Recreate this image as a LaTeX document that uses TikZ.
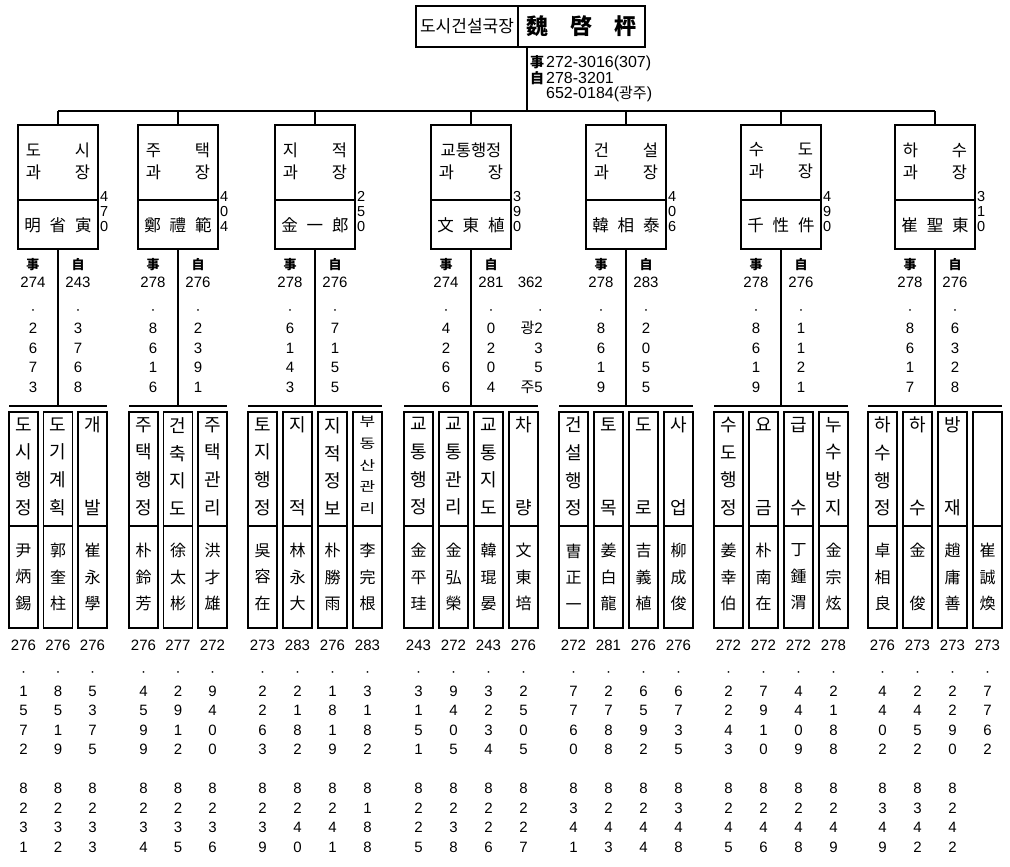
\documentclass[tikz,border=0pt]{standalone}
\usepackage{fontspec}
\usepackage{graphicx}
\newfontfamily\kr{Noto Sans CJK KR}
\newfontfamily\num{Liberation Sans}
\usetikzlibrary{positioning, calc}

\begin{document}
\begin{tikzpicture}[x=1pt, y=-1pt,
    boxed/.style={draw, line width=1.5pt, inner sep=0pt, outer sep=0pt},
    wire/.style={line width=1.4pt},
    head/.style={font={\kr\fontsize{16.5}{22}\selectfont}, align=center, inner sep=0pt},
    vlab/.style={font={\kr\fontsize{18}{27.7}\selectfont}, align=center, inner sep=0pt},
    vlabfive/.style={font={\kr\fontsize{17}{21.75}\selectfont}, align=center, inner sep=0pt, yshift=1pt},
    vname/.style={font={\kr\fontsize{16}{26.5}\selectfont}, align=center, inner sep=0pt},
    tel/.style={font={\num\fontsize{15}{19.5}\selectfont}, align=center, inner sep=0pt, anchor=north},
    telhead/.style={font={\kr\bfseries\fontsize{13}{13}\selectfont}, inner sep=0pt},
    ext/.style={font={\num\fontsize{14.5}{15}\selectfont}, align=left, inner sep=0pt, anchor=north west}]
\useasboundingbox (0,0) rectangle (1010,867);

% 국장
\node[boxed, minimum width=102, minimum height=41, font={\kr\fontsize{17}{17}\selectfont}] (chiefl) at (467,26.5) {도시건설국장};
\node[boxed, minimum width=127, minimum height=41, right=0pt of chiefl, font={\kr\bfseries\fontsize{22}{22}\selectfont}] (chiefr) {魏\hspace{22pt}啓\hspace{22pt}枰};
\node[ext, font={\num\fontsize{16}{15}\selectfont}] (chieftel) at (530,55) {{\kr\bfseries\fontsize{14}{14}\selectfont 事}\hspace{2pt}272-3016(307)\\{\kr\bfseries\fontsize{14}{14}\selectfont 自}\hspace{2pt}278-3201\\\phantom{\kr\bfseries\fontsize{14}{14}\selectfont 事}\hspace{2pt}652-0184({\kr\fontsize{15}{15}\selectfont 광주})};

\coordinate (bus0) at (527,111);
\draw[wire] (bus0 |- chiefr.south) -- (bus0);

% 과장
\foreach \cx/\hd/\nm/\ext/\pa/\pb/\lft/\rgt [count=\i] in {
    58/{도\hspace{34pt}시\\과\hspace{34pt}장}/{明\hspace{9pt}省\hspace{9pt}寅}/{4\\7\\0}/{274\\[7pt]·\\2\\6\\7\\3}/{243\\[7pt]·\\3\\7\\6\\8}/9/107,
    178/{주\hspace{34pt}택\\과\hspace{34pt}장}/{鄭\hspace{9pt}禮\hspace{9pt}範}/{4\\0\\4}/{278\\[7pt]·\\8\\6\\1\\6}/{276\\[7pt]·\\2\\3\\9\\1}/129/227,
    315/{지\hspace{34pt}적\\과\hspace{34pt}장}/{金\hspace{9pt}一\hspace{9pt}郎}/{2\\5\\0}/{278\\[7pt]·\\6\\1\\4\\3}/{276\\[7pt]·\\7\\1\\5\\5}/248/382,
    471/{교통행정\\과\hspace{34pt}장}/{文\hspace{9pt}東\hspace{9pt}植}/{3\\9\\0}/{274\\[7pt]·\\4\\2\\6\\6}/{281\\[7pt]·\\0\\2\\0\\4}/404/538,
    626/{건\hspace{34pt}설\\과\hspace{34pt}장}/{韓\hspace{9pt}相\hspace{9pt}泰}/{4\\0\\6}/{278\\[7pt]·\\8\\6\\1\\9}/{283\\[7pt]·\\2\\0\\5\\5}/559/693,
    781/{수\hspace{34pt}도\\과\hspace{34pt}장}/{千\hspace{9pt}性\hspace{9pt}件}/{4\\9\\0}/{278\\[7pt]·\\8\\6\\1\\9}/{276\\[7pt]·\\1\\1\\2\\1}/714/848,
    935/{하\hspace{34pt}수\\과\hspace{34pt}장}/{崔\hspace{9pt}聖\hspace{9pt}東}/{3\\1\\0}/{278\\[7pt]·\\8\\6\\1\\7}/{276\\[7pt]·\\6\\3\\2\\8}/868/1002}{
    \coordinate (bus\i) at (\cx,111);
    \node[boxed, minimum width=80, minimum height=75] (d\i t) at (\cx,162.5) {};
    \node[boxed, minimum width=80, minimum height=49, below=0pt of d\i t] (d\i n) {};
    \node[head] (d\i h) at (\cx,161) {\hd};
    \node[font={\kr\fontsize{16.5}{16.5}\selectfont}, inner sep=0pt] (d\i m) at (\cx,225) {\nm};
    \node[ext] (d\i x) at (\cx+42,191.5) {\ext};
    \node[telhead] (d\i ha) at (\cx-25,265) {事};
    \node[telhead] (d\i hb) at (\cx+20,265) {自};
    \node[tel] (d\i pa) at (\cx-25,277) {\pa};
    \node[tel] (d\i pb) at (\cx+20,277) {\pb};
    \coordinate (sub\i) at (\cx,406);
    \coordinate (h\i w) at (\lft,406);
    \coordinate (h\i e) at (\rgt,406);
    \draw[wire] (bus\i) -- (d\i t.north);
    \draw[wire] (d\i n.south) -- (sub\i);
    \draw[wire] (h\i w) -- (h\i e);
}
\draw[wire] (bus1) -- (bus7);
\node[tel, anchor=north east, align=right] (d4pc) at (543,277) {362\\[7pt]·\\{\kr 광}2\\3\\5\\{\kr 주}5};

% 계
\foreach \x/\st/\lb/\nm/\pn/\pd/\pe [count=\k] in {
    23.5/vlab/{도\\시\\행\\정}/{尹\\炳\\錫}/276/{1\\5\\7\\2}/{8\\2\\3\\1},
    58/vlab/{도\\기\\계\\획}/{郭\\奎\\柱}/276/{8\\5\\1\\9}/{8\\2\\3\\2},
    92.5/vlab/{개\\\mbox{}\\\mbox{}\\발}/{崔\\永\\學}/276/{5\\3\\7\\5}/{8\\2\\3\\3},
    143.5/vlab/{주\\택\\행\\정}/{朴\\鈴\\芳}/276/{4\\5\\9\\9}/{8\\2\\3\\4},
    178/vlab/{건\\축\\지\\도}/{徐\\太\\彬}/277/{2\\9\\1\\2}/{8\\2\\3\\5},
    212.5/vlab/{주\\택\\관\\리}/{洪\\才\\雄}/272/{9\\4\\0\\0}/{8\\2\\3\\6},
    262.5/vlab/{토\\지\\행\\정}/{吳\\容\\在}/273/{2\\2\\6\\3}/{8\\2\\3\\9},
    297.5/vlab/{지\\\mbox{}\\\mbox{}\\적}/{林\\永\\大}/283/{2\\1\\8\\2}/{8\\2\\4\\0},
    332.5/vlab/{지\\적\\정\\보}/{朴\\勝\\雨}/276/{1\\8\\1\\9}/{8\\2\\4\\1},
    367.5/vlabfive/{\scalebox{1}[.78]{부}\\\scalebox{1}[.78]{동}\\\scalebox{1}[.78]{산}\\\scalebox{1}[.78]{관}\\\scalebox{1}[.78]{리}}/{李\\完\\根}/283/{3\\1\\8\\2}/{8\\1\\8\\8},
    418.5/vlab/{교\\통\\행\\정}/{金\\平\\珪}/243/{3\\1\\5\\1}/{8\\2\\2\\5},
    453.5/vlab/{교\\통\\관\\리}/{金\\弘\\榮}/272/{9\\4\\0\\5}/{8\\2\\3\\8},
    488.5/vlab/{교\\통\\지\\도}/{韓\\琨\\晏}/243/{3\\2\\3\\4}/{8\\2\\2\\6},
    523.5/vlab/{차\\\mbox{}\\\mbox{}\\량}/{文\\東\\培}/276/{2\\5\\0\\5}/{8\\2\\2\\7},
    573.5/vlab/{건\\설\\행\\정}/{曺\\正\\一}/272/{7\\7\\6\\0}/{8\\3\\4\\1},
    608.5/vlab/{토\\\mbox{}\\\mbox{}\\목}/{姜\\白\\龍}/281/{2\\7\\8\\8}/{8\\2\\4\\3},
    643.5/vlab/{도\\\mbox{}\\\mbox{}\\로}/{吉\\義\\植}/276/{6\\5\\9\\2}/{8\\2\\4\\4},
    678.5/vlab/{사\\\mbox{}\\\mbox{}\\업}/{柳\\成\\俊}/276/{6\\7\\3\\5}/{8\\3\\4\\8},
    728.5/vlab/{수\\도\\행\\정}/{姜\\幸\\伯}/272/{2\\2\\4\\3}/{8\\2\\4\\5},
    763.5/vlab/{요\\\mbox{}\\\mbox{}\\금}/{朴\\南\\在}/272/{7\\9\\1\\0}/{8\\2\\4\\6},
    798.5/vlab/{급\\\mbox{}\\\mbox{}\\수}/{丁\\鍾\\渭}/272/{4\\4\\0\\9}/{8\\2\\4\\8},
    833.5/vlab/{누\\수\\방\\지}/{金\\宗\\炫}/278/{2\\1\\8\\8}/{8\\2\\4\\9},
    882.5/vlab/{하\\수\\행\\정}/{卓\\相\\良}/276/{4\\4\\0\\2}/{8\\3\\4\\9},
    917.5/vlab/{하\\\mbox{}\\\mbox{}\\수}/{金\\\mbox{}\\俊}/273/{2\\4\\5\\2}/{8\\3\\4\\2},
    952.5/vlab/{방\\\mbox{}\\\mbox{}\\재}/{趙\\庸\\善}/273/{2\\2\\9\\0}/{8\\2\\4\\2},
    987.5/vlab/{\mbox{}}/{崔\\誠\\煥}/273/{7\\7\\6\\2}/{\mbox{}}}{
    \node[boxed, minimum width=29, minimum height=114] (s\k t) at (\x,469) {};
    \node[boxed, minimum width=29, minimum height=102, below=0pt of s\k t] (s\k n) {};
    \node[\st] (s\k l) at (\x,466.5) {\lb};
    \node[vname] (s\k m) at (s\k n) {\nm};
    \node[tel] (s\k p) at (\x,639.5) {\pn\\[7pt]·\\\pd\\\mbox{}\\\pe};
}
\end{tikzpicture}
\end{document}
